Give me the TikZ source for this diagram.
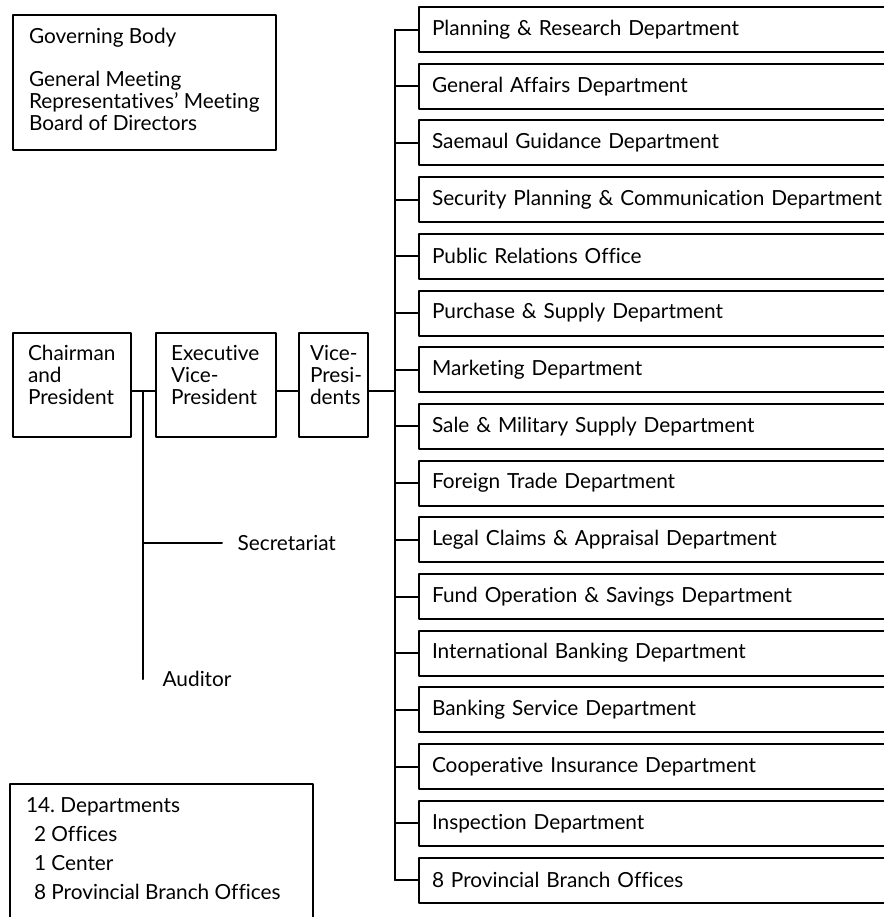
\documentclass[tikz,border=0pt]{standalone}
\usepackage{fontspec}
\setmainfont{Lato}[Ligatures={TeX,NoCommon}]
\frenchspacing
\newcommand{\boxtext}[3]{\parbox[c][#1][t]{#2}{\raggedright #3}}
\begin{document}
\begin{tikzpicture}[x=0.5pt, y=-0.5pt, font=\fontsize{10.4}{11}\selectfont, line width=1pt, line join=round, line cap=round,
  box/.style={draw, inner ysep=6pt, anchor=north west},
  unit/.style={box, inner xsep=7.5pt},
  dept/.style={draw, anchor=north west, minimum height=22.5pt, text width=250pt, inner xsep=6.5pt, align=left}]
\def\dx{418}
\def\dy{56.7}
\def\ytop{6}
\def\bx{395}
\def\ly{391}
\useasboundingbox (0,0) rectangle (884,917);
\clip (0,0) rectangle (884,917);
% governing body and summary
\node[box, inner xsep=8pt, inner ysep=6.5pt] (gov) at (12,14)
  {\boxtext{54.5pt}{115.5pt}{Governing Body\\[10.5pt] General Meeting\\ Representatives' Meeting\\ Board of Directors}};
\node[box, inner xsep=8pt, inner ysep=7pt] (sum) at (9,783)
  {\boxtext{100pt}{135.5pt}{14. Departments\\[3.5pt] \hspace*{4pt}2 Offices\\[3.5pt] \hspace*{4pt}1 Center\\[3.5pt] \hspace*{4pt}8 Provincial Branch Offices}};
% top line
\node[unit] (chair) at (12,332) {\boxtext{40pt}{44pt}{Chairman\\ and\\ President}};
\node[unit] (exec) at (155,332) {\boxtext{40pt}{45pt}{Executive\\ \mbox{Vice-}\\ President}};
\node[unit, inner xsep=5.5pt] (vp) at (298,332) {\boxtext{40pt}{23.5pt}{\mbox{Vice-}\\ \mbox{Presi-}\\ dents}};
\path (0,\ly) coordinate (lvl) (\bx,\ly) coordinate (bus) (143,\ly) coordinate (j);
\draw (chair.east |- lvl) -- (exec.west |- lvl) (exec.east |- lvl) -- (vp.west |- lvl) (vp.east |- lvl) -- (bus);
% departments
\foreach \t [count=\i] in {Planning \& Research Department, General Affairs Department,
  Saemaul Guidance Department, Security Planning \& Communication Department,
  Public Relations Office, Purchase \& Supply Department, Marketing Department,
  Sale \& Military Supply Department, Foreign Trade Department,
  Legal Claims \& Appraisal Department, Fund Operation \& Savings Department,
  International Banking Department, Banking Service Department,
  Cooperative Insurance Department, Inspection Department, 8 Provincial Branch Offices}
  \node[dept] (dep\i) at (\dx,{\ytop+(\i-1)*\dy}) {\t};
\draw (dep1.west -| bus) -- (dep16.west -| bus);
\foreach \i in {1,...,16}
  \draw (dep\i.west -| bus) -- (dep\i.west);
% staff
\node[anchor=west] (secr) at (230,543) {Secretariat};
\node[anchor=west] (aud) at (155,679) {Auditor};
\draw (j) -- (j |- aud);
\draw (j |- secr) -- ([xshift=-4pt]secr.west);
\end{tikzpicture}
\end{document}
